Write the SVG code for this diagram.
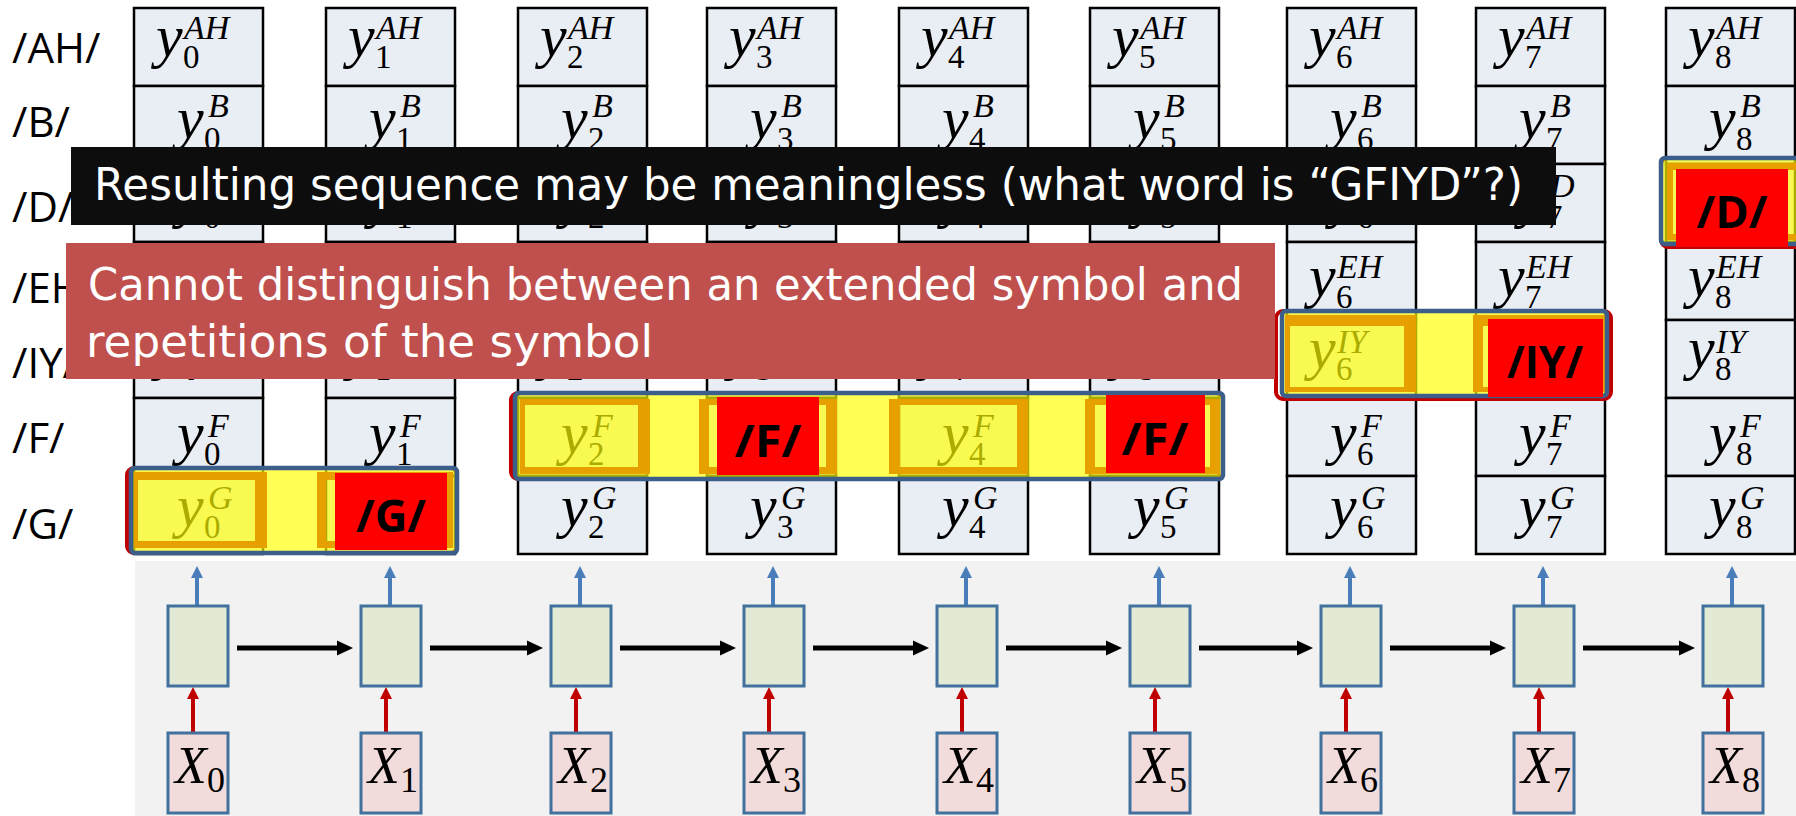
<svg xmlns="http://www.w3.org/2000/svg" width="1796" height="816" viewBox="0 0 1796 816">
<defs>
<style>
.cell{fill:#e9edf4;stroke:#000;stroke-width:2.5}
.lbl{font-family:"Open Sans","Liberation Sans",sans-serif;font-size:42px;fill:#000}
.v{font-family:"Liberation Serif","DejaVu Serif",serif;fill:#000}
.m{font-style:italic;font-size:60px}
.sb{font-size:33px}
.sp{font-style:italic;font-size:34px}
.st{fill:#e2ead6;stroke:#41719c;stroke-width:3}
.in{fill:#f2dcdb;stroke:#41719c;stroke-width:3}
.xm{font-style:italic;font-size:52px}
.xs{font-size:36px}
.hl{fill:#ffff00;fill-opacity:0.67}
.of{fill:#e6a000;fill-rule:evenodd}
.pb{fill:none;stroke:#3b5e8a;stroke-width:4.5}
.pr{fill:none;stroke:#c00000;stroke-width:4}
.rb{fill:#ff0000}
.pl{font-family:"Open Sans","Liberation Sans",sans-serif;font-weight:bold;font-size:44px;fill:#000;text-anchor:middle}
.note{font-family:"DejaVu Sans","Liberation Sans",sans-serif;font-size:44px;fill:#fff}
.ab{stroke:#000;stroke-width:5;fill:none}
.ar{stroke:#c00000;stroke-width:4;fill:none}
.au{stroke:#4a7ebb;stroke-width:4;fill:none}
</style>
<marker id="mk-black" markerUnits="userSpaceOnUse" markerWidth="16" markerHeight="16" viewBox="0 0 16 16" refX="8" refY="8" orient="auto"><path d="M0,0.5 L16,8 L0,15.5 Z" fill="#000"/></marker>
<marker id="mk-red" markerUnits="userSpaceOnUse" markerWidth="12" markerHeight="12" viewBox="0 0 12 12" refX="6" refY="6" orient="auto"><path d="M0,0 L12,6 L0,12 Z" fill="#c00000"/></marker>
<marker id="mk-blue" markerUnits="userSpaceOnUse" markerWidth="12" markerHeight="12" viewBox="0 0 12 12" refX="6" refY="6" orient="auto"><path d="M0,0 L12,6 L0,12 Z" fill="#4a7ebb"/></marker>
</defs>
<rect x="0" y="0" width="1796" height="816" fill="#fff"/>
<rect x="135" y="561" width="1661" height="255" fill="#f2f2f2"/>

<g id="row-labels">
<text class="lbl" x="12" y="63">/AH/</text>
<text class="lbl" x="12" y="137">/B/</text>
<text class="lbl" x="12" y="222">/D/</text>
<text class="lbl" x="12" y="303">/EH/</text>
<text class="lbl" x="12" y="378">/IY/</text>
<text class="lbl" x="12" y="453">/F/</text>
<text class="lbl" x="12" y="539">/G/</text>
</g>

<g id="col-0">
<rect class="cell" x="134" y="8" width="129" height="78"/><rect class="cell" x="134" y="86" width="129" height="78"/><rect class="cell" x="134" y="164" width="129" height="78"/><rect class="cell" x="134" y="242" width="129" height="78"/><rect class="cell" x="134" y="320" width="129" height="78"/><rect class="cell" x="134" y="398" width="129" height="78"/><rect class="cell" x="134" y="476" width="129" height="78"/>
<text class="v"><tspan class="m" x="156" y="56">y</tspan><tspan class="sb" x="183" y="68">0</tspan><tspan class="sp" x="184" y="39">AH</tspan></text>
<text class="v"><tspan class="m" x="177" y="138">y</tspan><tspan class="sb" x="204" y="150">0</tspan><tspan class="sp" x="208" y="117">B</tspan></text>
<text class="v"><tspan class="m" x="177" y="216">y</tspan><tspan class="sb" x="204" y="228">0</tspan><tspan class="sp" x="208" y="197">D</tspan></text>
<text class="v"><tspan class="m" x="156" y="368">y</tspan><tspan class="sb" x="183" y="380">0</tspan><tspan class="sp" x="184" y="353">IY</tspan></text>
<text class="v"><tspan class="m" x="177" y="453">y</tspan><tspan class="sb" x="204" y="465">0</tspan><tspan class="sp" x="208" y="437">F</tspan></text>
<text class="v"><tspan class="m" x="177" y="526">y</tspan><tspan class="sb" x="204" y="538">0</tspan><tspan class="sp" x="208" y="509">G</tspan></text>
</g>

<g id="col-1">
<rect class="cell" x="326" y="8" width="129" height="78"/><rect class="cell" x="326" y="86" width="129" height="78"/><rect class="cell" x="326" y="164" width="129" height="78"/><rect class="cell" x="326" y="242" width="129" height="78"/><rect class="cell" x="326" y="320" width="129" height="78"/><rect class="cell" x="326" y="398" width="129" height="78"/><rect class="cell" x="326" y="476" width="129" height="78"/>
<text class="v"><tspan class="m" x="348" y="56">y</tspan><tspan class="sb" x="375" y="68">1</tspan><tspan class="sp" x="376" y="39">AH</tspan></text>
<text class="v"><tspan class="m" x="369" y="138">y</tspan><tspan class="sb" x="396" y="150">1</tspan><tspan class="sp" x="400" y="117">B</tspan></text>
<text class="v"><tspan class="m" x="369" y="216">y</tspan><tspan class="sb" x="396" y="228">1</tspan><tspan class="sp" x="400" y="197">D</tspan></text>
<text class="v"><tspan class="m" x="348" y="368">y</tspan><tspan class="sb" x="375" y="380">1</tspan><tspan class="sp" x="376" y="353">IY</tspan></text>
<text class="v"><tspan class="m" x="369" y="453">y</tspan><tspan class="sb" x="396" y="465">1</tspan><tspan class="sp" x="400" y="437">F</tspan></text>
</g>

<g id="col-2">
<rect class="cell" x="518" y="8" width="129" height="78"/><rect class="cell" x="518" y="86" width="129" height="78"/><rect class="cell" x="518" y="164" width="129" height="78"/><rect class="cell" x="518" y="242" width="129" height="78"/><rect class="cell" x="518" y="320" width="129" height="78"/><rect class="cell" x="518" y="398" width="129" height="78"/><rect class="cell" x="518" y="476" width="129" height="78"/>
<text class="v"><tspan class="m" x="540" y="56">y</tspan><tspan class="sb" x="567" y="68">2</tspan><tspan class="sp" x="568" y="39">AH</tspan></text>
<text class="v"><tspan class="m" x="561" y="138">y</tspan><tspan class="sb" x="588" y="150">2</tspan><tspan class="sp" x="592" y="117">B</tspan></text>
<text class="v"><tspan class="m" x="561" y="216">y</tspan><tspan class="sb" x="588" y="228">2</tspan><tspan class="sp" x="592" y="197">D</tspan></text>
<text class="v"><tspan class="m" x="540" y="368">y</tspan><tspan class="sb" x="567" y="380">2</tspan><tspan class="sp" x="568" y="353">IY</tspan></text>
<text class="v"><tspan class="m" x="561" y="453">y</tspan><tspan class="sb" x="588" y="465">2</tspan><tspan class="sp" x="592" y="437">F</tspan></text>
<text class="v"><tspan class="m" x="561" y="526">y</tspan><tspan class="sb" x="588" y="538">2</tspan><tspan class="sp" x="592" y="509">G</tspan></text>
</g>

<g id="col-3">
<rect class="cell" x="707" y="8" width="129" height="78"/><rect class="cell" x="707" y="86" width="129" height="78"/><rect class="cell" x="707" y="164" width="129" height="78"/><rect class="cell" x="707" y="242" width="129" height="78"/><rect class="cell" x="707" y="320" width="129" height="78"/><rect class="cell" x="707" y="398" width="129" height="78"/><rect class="cell" x="707" y="476" width="129" height="78"/>
<text class="v"><tspan class="m" x="729" y="56">y</tspan><tspan class="sb" x="756" y="68">3</tspan><tspan class="sp" x="757" y="39">AH</tspan></text>
<text class="v"><tspan class="m" x="750" y="138">y</tspan><tspan class="sb" x="777" y="150">3</tspan><tspan class="sp" x="781" y="117">B</tspan></text>
<text class="v"><tspan class="m" x="750" y="216">y</tspan><tspan class="sb" x="777" y="228">3</tspan><tspan class="sp" x="781" y="197">D</tspan></text>
<text class="v"><tspan class="m" x="729" y="368">y</tspan><tspan class="sb" x="756" y="380">3</tspan><tspan class="sp" x="757" y="353">IY</tspan></text>
<text class="v"><tspan class="m" x="750" y="526">y</tspan><tspan class="sb" x="777" y="538">3</tspan><tspan class="sp" x="781" y="509">G</tspan></text>
</g>

<g id="col-4">
<rect class="cell" x="899" y="8" width="129" height="78"/><rect class="cell" x="899" y="86" width="129" height="78"/><rect class="cell" x="899" y="164" width="129" height="78"/><rect class="cell" x="899" y="242" width="129" height="78"/><rect class="cell" x="899" y="320" width="129" height="78"/><rect class="cell" x="899" y="398" width="129" height="78"/><rect class="cell" x="899" y="476" width="129" height="78"/>
<text class="v"><tspan class="m" x="921" y="56">y</tspan><tspan class="sb" x="948" y="68">4</tspan><tspan class="sp" x="949" y="39">AH</tspan></text>
<text class="v"><tspan class="m" x="942" y="138">y</tspan><tspan class="sb" x="969" y="150">4</tspan><tspan class="sp" x="973" y="117">B</tspan></text>
<text class="v"><tspan class="m" x="942" y="216">y</tspan><tspan class="sb" x="969" y="228">4</tspan><tspan class="sp" x="973" y="197">D</tspan></text>
<text class="v"><tspan class="m" x="921" y="368">y</tspan><tspan class="sb" x="948" y="380">4</tspan><tspan class="sp" x="949" y="353">IY</tspan></text>
<text class="v"><tspan class="m" x="942" y="453">y</tspan><tspan class="sb" x="969" y="465">4</tspan><tspan class="sp" x="973" y="437">F</tspan></text>
<text class="v"><tspan class="m" x="942" y="526">y</tspan><tspan class="sb" x="969" y="538">4</tspan><tspan class="sp" x="973" y="509">G</tspan></text>
</g>

<g id="col-5">
<rect class="cell" x="1090" y="8" width="129" height="78"/><rect class="cell" x="1090" y="86" width="129" height="78"/><rect class="cell" x="1090" y="164" width="129" height="78"/><rect class="cell" x="1090" y="242" width="129" height="78"/><rect class="cell" x="1090" y="320" width="129" height="78"/><rect class="cell" x="1090" y="398" width="129" height="78"/><rect class="cell" x="1090" y="476" width="129" height="78"/>
<text class="v"><tspan class="m" x="1112" y="56">y</tspan><tspan class="sb" x="1139" y="68">5</tspan><tspan class="sp" x="1140" y="39">AH</tspan></text>
<text class="v"><tspan class="m" x="1133" y="138">y</tspan><tspan class="sb" x="1160" y="150">5</tspan><tspan class="sp" x="1164" y="117">B</tspan></text>
<text class="v"><tspan class="m" x="1133" y="216">y</tspan><tspan class="sb" x="1160" y="228">5</tspan><tspan class="sp" x="1164" y="197">D</tspan></text>
<text class="v"><tspan class="m" x="1112" y="368">y</tspan><tspan class="sb" x="1139" y="380">5</tspan><tspan class="sp" x="1140" y="353">IY</tspan></text>
<text class="v"><tspan class="m" x="1133" y="526">y</tspan><tspan class="sb" x="1160" y="538">5</tspan><tspan class="sp" x="1164" y="509">G</tspan></text>
</g>

<g id="col-6">
<rect class="cell" x="1287" y="8" width="129" height="78"/><rect class="cell" x="1287" y="86" width="129" height="78"/><rect class="cell" x="1287" y="164" width="129" height="78"/><rect class="cell" x="1287" y="242" width="129" height="78"/><rect class="cell" x="1287" y="320" width="129" height="78"/><rect class="cell" x="1287" y="398" width="129" height="78"/><rect class="cell" x="1287" y="476" width="129" height="78"/>
<text class="v"><tspan class="m" x="1309" y="56">y</tspan><tspan class="sb" x="1336" y="68">6</tspan><tspan class="sp" x="1337" y="39">AH</tspan></text>
<text class="v"><tspan class="m" x="1330" y="138">y</tspan><tspan class="sb" x="1357" y="150">6</tspan><tspan class="sp" x="1361" y="117">B</tspan></text>
<text class="v"><tspan class="m" x="1330" y="216">y</tspan><tspan class="sb" x="1357" y="228">6</tspan><tspan class="sp" x="1361" y="197">D</tspan></text>
<text class="v"><tspan class="m" x="1309" y="296">y</tspan><tspan class="sb" x="1336" y="308">6</tspan><tspan class="sp" x="1337" y="278">EH</tspan></text>
<text class="v"><tspan class="m" x="1309" y="368">y</tspan><tspan class="sb" x="1336" y="380">6</tspan><tspan class="sp" x="1337" y="353">IY</tspan></text>
<text class="v"><tspan class="m" x="1330" y="453">y</tspan><tspan class="sb" x="1357" y="465">6</tspan><tspan class="sp" x="1361" y="437">F</tspan></text>
<text class="v"><tspan class="m" x="1330" y="526">y</tspan><tspan class="sb" x="1357" y="538">6</tspan><tspan class="sp" x="1361" y="509">G</tspan></text>
</g>

<g id="col-7">
<rect class="cell" x="1476" y="8" width="129" height="78"/><rect class="cell" x="1476" y="86" width="129" height="78"/><rect class="cell" x="1476" y="164" width="129" height="78"/><rect class="cell" x="1476" y="242" width="129" height="78"/><rect class="cell" x="1476" y="320" width="129" height="78"/><rect class="cell" x="1476" y="398" width="129" height="78"/><rect class="cell" x="1476" y="476" width="129" height="78"/>
<text class="v"><tspan class="m" x="1498" y="56">y</tspan><tspan class="sb" x="1525" y="68">7</tspan><tspan class="sp" x="1526" y="39">AH</tspan></text>
<text class="v"><tspan class="m" x="1519" y="138">y</tspan><tspan class="sb" x="1546" y="150">7</tspan><tspan class="sp" x="1550" y="117">B</tspan></text>
<text class="v"><tspan class="m" x="1519" y="216">y</tspan><tspan class="sb" x="1546" y="228">7</tspan><tspan class="sp" x="1550" y="197">D</tspan></text>
<text class="v"><tspan class="m" x="1498" y="296">y</tspan><tspan class="sb" x="1525" y="308">7</tspan><tspan class="sp" x="1526" y="278">EH</tspan></text>
<text class="v"><tspan class="m" x="1519" y="453">y</tspan><tspan class="sb" x="1546" y="465">7</tspan><tspan class="sp" x="1550" y="437">F</tspan></text>
<text class="v"><tspan class="m" x="1519" y="526">y</tspan><tspan class="sb" x="1546" y="538">7</tspan><tspan class="sp" x="1550" y="509">G</tspan></text>
</g>

<g id="col-8">
<rect class="cell" x="1666" y="8" width="129" height="78"/><rect class="cell" x="1666" y="86" width="129" height="78"/><rect class="cell" x="1666" y="164" width="129" height="78"/><rect class="cell" x="1666" y="242" width="129" height="78"/><rect class="cell" x="1666" y="320" width="129" height="78"/><rect class="cell" x="1666" y="398" width="129" height="78"/><rect class="cell" x="1666" y="476" width="129" height="78"/>
<text class="v"><tspan class="m" x="1688" y="56">y</tspan><tspan class="sb" x="1715" y="68">8</tspan><tspan class="sp" x="1716" y="39">AH</tspan></text>
<text class="v"><tspan class="m" x="1709" y="138">y</tspan><tspan class="sb" x="1736" y="150">8</tspan><tspan class="sp" x="1740" y="117">B</tspan></text>
<text class="v"><tspan class="m" x="1688" y="296">y</tspan><tspan class="sb" x="1715" y="308">8</tspan><tspan class="sp" x="1716" y="278">EH</tspan></text>
<text class="v"><tspan class="m" x="1688" y="368">y</tspan><tspan class="sb" x="1715" y="380">8</tspan><tspan class="sp" x="1716" y="353">IY</tspan></text>
<text class="v"><tspan class="m" x="1709" y="453">y</tspan><tspan class="sb" x="1736" y="465">8</tspan><tspan class="sp" x="1740" y="437">F</tspan></text>
<text class="v"><tspan class="m" x="1709" y="526">y</tspan><tspan class="sb" x="1736" y="538">8</tspan><tspan class="sp" x="1740" y="509">G</tspan></text>
</g>

<g id="connectors">
<path class="ab" d="M237 648H345" marker-end="url(#mk-black)"/>
<path class="ab" d="M430 648H535" marker-end="url(#mk-black)"/>
<path class="ab" d="M620 648H728" marker-end="url(#mk-black)"/>
<path class="ab" d="M813 648H921" marker-end="url(#mk-black)"/>
<path class="ab" d="M1006 648H1114" marker-end="url(#mk-black)"/>
<path class="ab" d="M1199 648H1305" marker-end="url(#mk-black)"/>
<path class="ab" d="M1390 648H1498" marker-end="url(#mk-black)"/>
<path class="ab" d="M1583 648H1687" marker-end="url(#mk-black)"/>
<path class="ar" d="M193 733V693" marker-end="url(#mk-red)"/>
<path class="ar" d="M386 733V693" marker-end="url(#mk-red)"/>
<path class="ar" d="M576 733V693" marker-end="url(#mk-red)"/>
<path class="ar" d="M769 733V693" marker-end="url(#mk-red)"/>
<path class="ar" d="M962 733V693" marker-end="url(#mk-red)"/>
<path class="ar" d="M1155 733V693" marker-end="url(#mk-red)"/>
<path class="ar" d="M1346 733V693" marker-end="url(#mk-red)"/>
<path class="ar" d="M1539 733V693" marker-end="url(#mk-red)"/>
<path class="ar" d="M1728 733V693" marker-end="url(#mk-red)"/>
<path class="au" d="M197 606V572" marker-end="url(#mk-blue)"/>
<path class="au" d="M390 606V572" marker-end="url(#mk-blue)"/>
<path class="au" d="M580 606V572" marker-end="url(#mk-blue)"/>
<path class="au" d="M773 606V572" marker-end="url(#mk-blue)"/>
<path class="au" d="M966 606V572" marker-end="url(#mk-blue)"/>
<path class="au" d="M1159 606V572" marker-end="url(#mk-blue)"/>
<path class="au" d="M1350 606V572" marker-end="url(#mk-blue)"/>
<path class="au" d="M1543 606V572" marker-end="url(#mk-blue)"/>
<path class="au" d="M1732 606V572" marker-end="url(#mk-blue)"/>
</g>

<g id="h-0"><rect class="st" x="168" y="606" width="60" height="80"/></g>
<g id="h-1"><rect class="st" x="361" y="606" width="60" height="80"/></g>
<g id="h-2"><rect class="st" x="551" y="606" width="60" height="80"/></g>
<g id="h-3"><rect class="st" x="744" y="606" width="60" height="80"/></g>
<g id="h-4"><rect class="st" x="937" y="606" width="60" height="80"/></g>
<g id="h-5"><rect class="st" x="1130" y="606" width="60" height="80"/></g>
<g id="h-6"><rect class="st" x="1321" y="606" width="60" height="80"/></g>
<g id="h-7"><rect class="st" x="1514" y="606" width="60" height="80"/></g>
<g id="h-8"><rect class="st" x="1703" y="606" width="60" height="80"/></g>

<g id="x-0"><rect class="in" x="168" y="733" width="60" height="80"/><text class="v"><tspan class="xm" x="175" y="783">X</tspan><tspan class="xs" x="207" y="792">0</tspan></text></g>
<g id="x-1"><rect class="in" x="361" y="733" width="60" height="80"/><text class="v"><tspan class="xm" x="368" y="783">X</tspan><tspan class="xs" x="400" y="792">1</tspan></text></g>
<g id="x-2"><rect class="in" x="551" y="733" width="60" height="80"/><text class="v"><tspan class="xm" x="558" y="783">X</tspan><tspan class="xs" x="590" y="792">2</tspan></text></g>
<g id="x-3"><rect class="in" x="744" y="733" width="60" height="80"/><text class="v"><tspan class="xm" x="751" y="783">X</tspan><tspan class="xs" x="783" y="792">3</tspan></text></g>
<g id="x-4"><rect class="in" x="937" y="733" width="60" height="80"/><text class="v"><tspan class="xm" x="944" y="783">X</tspan><tspan class="xs" x="976" y="792">4</tspan></text></g>
<g id="x-5"><rect class="in" x="1130" y="733" width="60" height="80"/><text class="v"><tspan class="xm" x="1137" y="783">X</tspan><tspan class="xs" x="1169" y="792">5</tspan></text></g>
<g id="x-6"><rect class="in" x="1321" y="733" width="60" height="80"/><text class="v"><tspan class="xm" x="1328" y="783">X</tspan><tspan class="xs" x="1360" y="792">6</tspan></text></g>
<g id="x-7"><rect class="in" x="1514" y="733" width="60" height="80"/><text class="v"><tspan class="xm" x="1521" y="783">X</tspan><tspan class="xs" x="1553" y="792">7</tspan></text></g>
<g id="x-8"><rect class="in" x="1703" y="733" width="60" height="80"/><text class="v"><tspan class="xm" x="1710" y="783">X</tspan><tspan class="xs" x="1742" y="792">8</tspan></text></g>

<g id="path-G">
<rect class="pr" x="127" y="468" width="330" height="85" rx="7"/>
<rect class="hl" x="131" y="468" width="326" height="85" rx="4"/>
<path class="of" d="M134 472H267V548H134Z M138 480V541H255V480Z"/>
<path class="of" d="M317 472H453V548H317Z M326 480V541H444V480Z"/>
<rect class="pb" x="131" y="468" width="326" height="85" rx="4"/>
<rect class="rb" x="335" y="473" width="112" height="77"/>
<text class="pl" x="391" y="532" textLength="70" lengthAdjust="spacingAndGlyphs">/G/</text>
</g>

<g id="path-F">
<rect class="pr" x="511" y="393" width="712" height="86" rx="7"/>
<rect class="hl" x="515" y="393" width="708" height="86" rx="4"/>
<path class="of" d="M520 399H650V474H520Z M525 405V467H638V405Z"/>
<path class="of" d="M699 399H837V474H699Z M709 405V467H826V405Z"/>
<path class="of" d="M889 399H1028V474H889Z M900 405V467H1017V405Z"/>
<path class="of" d="M1085 399H1220V474H1085Z M1095 405V467H1210V405Z"/>
<rect class="pb" x="515" y="393" width="708" height="86" rx="4"/>
<rect class="rb" x="717" y="397" width="102" height="78"/>
<text class="pl" x="768" y="457" textLength="67" lengthAdjust="spacingAndGlyphs">/F/</text>
<rect class="rb" x="1106" y="395" width="99" height="78"/>
<text class="pl" x="1155" y="455" textLength="67" lengthAdjust="spacingAndGlyphs">/F/</text>
</g>

<g id="path-IY">
<rect class="pr" x="1276" y="311" width="335" height="88" rx="7"/>
<rect class="hl" x="1282" y="311" width="325" height="85" rx="4"/>
<path class="of" d="M1285 315H1416V392H1285Z M1290 326V387H1404V326Z"/>
<path class="of" d="M1473 315H1605V392H1473Z M1483 326V387H1596V326Z"/>
<rect class="pb" x="1282" y="311" width="325" height="85" rx="4"/>
<rect class="rb" x="1488" y="319" width="115" height="78"/>
<text class="pl" x="1545" y="378" textLength="76" lengthAdjust="spacingAndGlyphs">/IY/</text>
</g>

<g id="path-D">
<rect class="pr" x="1661" y="158" width="150" height="89" rx="7"/>
<rect class="hl" x="1661" y="158" width="150" height="86" rx="4"/>
<path class="of" d="M1667 163H1805V240H1667Z M1673 170V234H1805V170Z"/>
<rect class="pb" x="1661" y="158" width="150" height="86" rx="4"/>
<rect class="rb" x="1676" y="169" width="112" height="78"/>
<text class="pl" x="1732" y="228" textLength="71" lengthAdjust="spacingAndGlyphs">/D/</text>
</g>

<g id="note-meaningless">
<rect x="71" y="147" width="1485" height="78" fill="#0d0d0d"/>
<text class="note" x="94" y="200" textLength="1429" lengthAdjust="spacingAndGlyphs">Resulting sequence may be meaningless (what word is “GFIYD”?)</text>
</g>

<g id="note-repetition">
<rect x="66" y="243" width="1209" height="136" fill="#c0504d"/>
<text class="note" x="88" y="300" textLength="1155" lengthAdjust="spacingAndGlyphs">Cannot distinguish between an extended symbol and</text>
<text class="note" x="86" y="357" textLength="567" lengthAdjust="spacingAndGlyphs">repetitions of the symbol</text>
</g>
</svg>
